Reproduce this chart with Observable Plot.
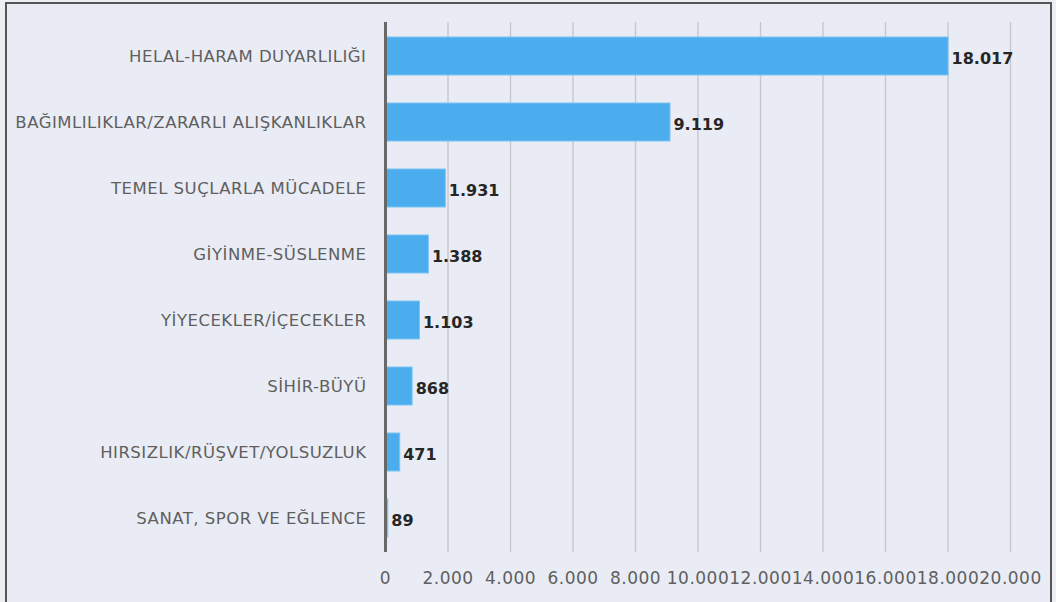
<!DOCTYPE html>
<html>
<head>
<meta charset="utf-8">
<script src="https://cdn.jsdelivr.net/npm/d3@7"></script>
<script src="https://cdn.jsdelivr.net/npm/@observablehq/plot@0.6"></script>
<style>
  html, body { margin: 0; padding: 0; background: #eceef3; }
  #wrap { position: relative; width: 1056px; height: 602px; overflow: hidden; }
  #frame { position: absolute; left: 5px; top: 2px; width: 1047px; height: 640px;
           border: 2px solid #555; background: #e9ecf4; box-sizing: border-box; }
  #chart { position: absolute; left: 0; top: 0; }
</style>
</head>
<body>
<div id="wrap"><div id="frame"></div><div id="chart"></div></div>
<script>
const categories = [
  "HELAL-HARAM DUYARLILIĞI",
  "BAĞIMLILIKLAR/ZARARLI ALIŞKANLIKLAR",
  "TEMEL SUÇLARLA MÜCADELE",
  "GİYİNME-SÜSLENME",
  "YİYECEKLER/İÇECEKLER",
  "SİHİR-BÜYÜ",
  "HIRSIZLIK/RÜŞVET/YOLSUZLUK",
  "SANAT, SPOR VE EĞLENCE"
];
const values = [18017, 9119, 1931, 1388, 1103, 868, 471, 89];
const xTicks = [0, 2000, 4000, 6000, 8000, 10000, 12000, 14000, 16000, 18000, 20000];

const data = categories.map((c, i) => ({category: c, value: values[i]}));
const tr = d3.formatLocale({decimal: ",", thousands: ".", grouping: [3], currency: ["", "₺"]});
const fmt = tr.format(",d");

const chart = Plot.plot({
  width: 1056,
  height: 602,
  marginLeft: 385,
  marginRight: 46,
  marginTop: 22,
  marginBottom: 50,
  style: {background: "transparent", fontFamily: "'DejaVu Sans', sans-serif", overflow: "visible"},
  x: {domain: [0, 20000], ticks: xTicks, tickFormat: fmt, label: null},
  y: {domain: categories, paddingInner: 0.42, paddingOuter: 0.21, label: null},
  marks: [
    Plot.gridX(xTicks.slice(1), {stroke: "#c4c6cb", strokeOpacity: 1, strokeWidth: 1.3}),
    Plot.barX(data, {y: "category", x: "value", fill: "#4badee", stroke: "#7cc4f4", strokeWidth: 1}),
    Plot.ruleX([0], {stroke: "#686868", strokeWidth: 3}),
    Plot.text(data, {y: "category", x: "value", text: d => fmt(d.value), textAnchor: "start", dx: 3, dy: 2,
      fontWeight: "bold", fontSize: 16, fill: "#262626"}),
    Plot.axisX({ticks: xTicks, tickFormat: fmt, tickSize: 0, tickPadding: 19, fontSize: 17,
      color: "#5f5f5f", label: null, style: "letter-spacing:0.5px"}),
    Plot.axisY({tickSize: 0, tickPadding: 19, fontSize: 16.5, color: "#5f5f5f", label: null})
  ]
});
chart.querySelectorAll("[aria-label='x-axis tick label'] text, [aria-label='y-axis tick label'] text")
  .forEach(t => t.setAttribute("letter-spacing", "0.5"));
document.getElementById("chart").appendChild(chart);
</script>
</body>
</html>
